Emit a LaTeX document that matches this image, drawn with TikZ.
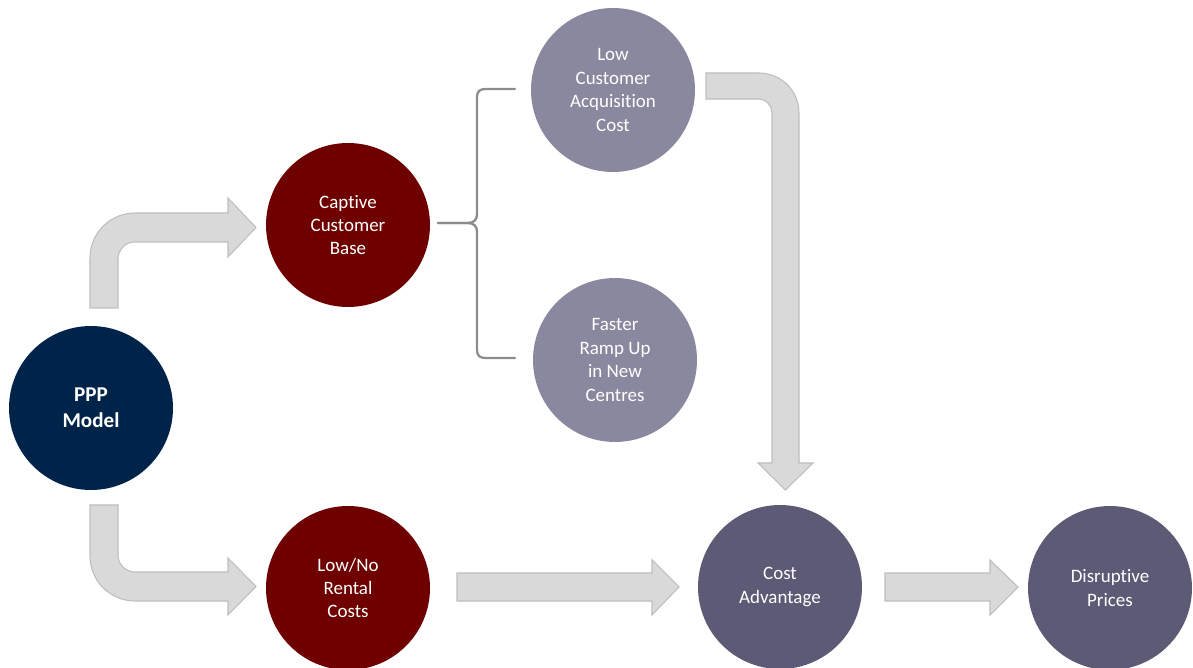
\documentclass[tikz,border=0pt]{standalone}
\usepackage{fontspec}
\setmainfont{Carlito}[RawFeature={-liga;-clig;-calt;-dlig;-rlig}]
\definecolor{navy}{RGB}{0,35,73}
\definecolor{darkred}{RGB}{110,0,0}
\definecolor{lightslate}{RGB}{138,136,158}
\definecolor{darkslate}{RGB}{92,90,117}
\definecolor{arrowfill}{RGB}{217,217,217}
\definecolor{arrowedge}{RGB}{190,190,190}
\definecolor{bracegray}{RGB}{140,140,140}
\begin{document}
\begin{tikzpicture}[x=0.02cm,y=-0.02cm,
  bubble/.style={circle,minimum size=3.28cm,inner sep=0pt,text=white,align=center,
    font=\fontsize{10.8}{13.3}\selectfont},
  blockarrow/.style={fill=arrowfill,draw=arrowedge,line width=0.6pt,line join=miter},
  bracket/.style={draw=bracegray,line width=1.3pt,line cap=round}]
\useasboundingbox (0,0) rectangle (1193,668);
% circles
\node[bubble,fill=navy,font=\fontsize{12}{14.7}\selectfont\bfseries] (ppp) at (91,408) {PPP\\Model};
\node[bubble,fill=darkred] (captive) at (348,225) {Captive\\Customer\\Base};
\node[bubble,fill=darkred] (rental) at (348,588) {Low/No\\Rental\\Costs};
\node[bubble,fill=lightslate] (acq) at (613,90) {Low\\Customer\\Acquisition\\Cost};
\node[bubble,fill=lightslate] (ramp) at (615,360) {Faster\\Ramp Up\\in New\\Centres};
\node[bubble,fill=darkslate] (cost) at (780,587) {Cost\\Advantage};
\node[bubble,fill=darkslate] (price) at (1110,588) {Disruptive\\Prices};
% bent arrow PPP -> Captive
\path[blockarrow] (90,308) -- (90,258) .. controls (90,233.1) and (110.1,213) .. (135,213)
  -- (228,213) -- (228,198) -- (256,227.5) -- (228,257) -- (228,242) -- (135,242)
  .. controls (125.6,242) and (118,249.6) .. (118,259) -- (118,308) -- cycle;
% bent arrow PPP -> Rental
\path[blockarrow] (90,505) -- (90,556) .. controls (90,580.9) and (110.1,601) .. (135,601)
  -- (228,601) -- (228,615) -- (256,586.5) -- (228,558) -- (228,572) -- (135,572)
  .. controls (125.6,572) and (118,564.4) .. (118,555) -- (118,505) -- cycle;
% bent arrow Acquisition -> Cost
\path[blockarrow] (706,73) -- (759,73) .. controls (781.1,73) and (799,90.9) .. (799,113)
  -- (799,463) -- (813,463) -- (785.5,490) -- (758,463) -- (772,463) -- (772,113)
  .. controls (772,105.8) and (766.2,99) .. (759,99) -- (706,99) -- cycle;
% straight arrows
\path[blockarrow] (457,573) -- (652,573) -- (652,560) -- (679,587) -- (652,615) -- (652,601) -- (457,601) -- cycle;
\path[blockarrow] (885,573) -- (990,573) -- (990,560) -- (1018,587) -- (990,615) -- (990,601) -- (885,601) -- cycle;
% brace
\coordinate (tip) at (438,223);
\draw[bracket] (515,89) -- (486,89) .. controls (480,89) and (477,91) .. (477,97)
  -- (477,214) .. controls (477,220) and (474,223) .. (467,223) -- (tip);
\draw[bracket] (tip) -- (467,223) .. controls (474,223) and (477,226) .. (477,232)
  -- (477,350) .. controls (477,356) and (480,358) .. (486,358) -- (515,358);
\end{tikzpicture}
\end{document}
